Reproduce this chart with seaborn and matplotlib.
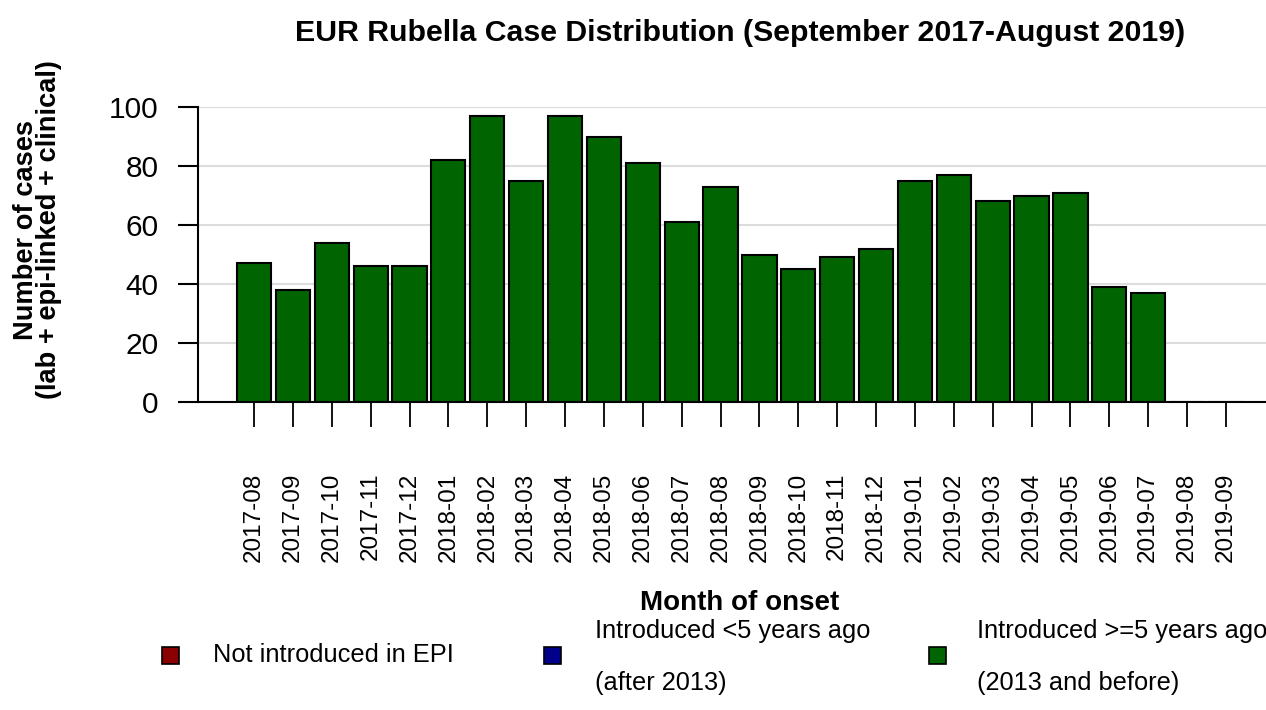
import matplotlib
matplotlib.use("Agg")
import matplotlib.pyplot as plt
import seaborn as sns
import pandas as pd
from matplotlib.patches import Rectangle

months = ["2017-08", "2017-09", "2017-10", "2017-11", "2017-12",
          "2018-01", "2018-02", "2018-03", "2018-04", "2018-05", "2018-06",
          "2018-07", "2018-08", "2018-09", "2018-10", "2018-11", "2018-12",
          "2019-01", "2019-02", "2019-03", "2019-04", "2019-05", "2019-06",
          "2019-07", "2019-08", "2019-09"]
cases = [47, 38, 54, 46, 46, 82, 97, 75, 97, 90, 81, 61, 73, 50, 45, 49, 52,
         75, 77, 68, 70, 71, 39, 37, 0, 0]
yticks = [0, 20, 40, 60, 80, 100]
legend_top = ["Not introduced in EPI", "Introduced <5 years ago", "Introduced >=5 years ago"]
legend_bottom = ["", "(after 2013)", "(2013 and before)"]
legend_colors = ["#8B0000", "#00008B", "#006400"]

sns.set_theme(style="white")
plt.rcParams['font.family'] = ['Liberation Sans', 'DejaVu Sans']
plt.rcParams['text.color'] = 'black'
plt.rcParams['xtick.color'] = 'black'
plt.rcParams['ytick.color'] = 'black'
plt.rcParams['axes.labelcolor'] = 'black'

df = pd.DataFrame({"month": months, "cases": cases})

fig = plt.figure(figsize=(12.66, 7.1), dpi=100)
ax = fig.add_axes([198/1266, 1-402/710, 1-198/1266, (402-107)/710])

sns.barplot(data=df, x="month", y="cases", order=months, color="#006400",
            saturation=1, width=0.88, edgecolor="black", linewidth=1.5, ax=ax)

ax.set_xlim(-1.44, 26.03)
ax.set_ylim(0, 100)
ax.set_yticks(yticks)
ax.set_yticklabels([str(v) for v in yticks], fontsize=21.5)
ax.yaxis.grid(True, color="#dcdcdc", linewidth=1.5)
ax.set_axisbelow(True)
for s in ["top", "right"]:
    ax.spines[s].set_visible(False)
for s in ["left", "bottom"]:
    ax.spines[s].set_color("black")
    ax.spines[s].set_linewidth(1.5)

ax.tick_params(axis="x", bottom=True, length=18, width=1.3, color="black",
               pad=33, labelsize=17.5, labelrotation=90)
ax.tick_params(axis="y", left=True, length=14.5, width=1.5, color="black",
               pad=14)
for lbl in ax.get_xticklabels():
    lbl.set_va("top")
    lbl.set_ha("center")

ax.set_xlabel("")
ax.set_ylabel("")
fig.text(740/1266, 1-610/710, "Month of onset", fontsize=20, fontweight="bold",
         ha="center", va="baseline")
fig.text(38/1266, 1-230/710, "Number of cases\n(lab + epi-linked + clinical)",
         fontsize=19.6, fontweight="bold", rotation=90, ha="center", va="center",
         multialignment="center", linespacing=0.85)
fig.text(740/1266, 1-41/710,
         "EUR Rubella Case Distribution (September 2017-August 2019)",
         fontsize=21.8, fontweight="bold", ha="center", va="baseline")

# legend
sq = 17
layout = [(170, 213, 595), (552, 595, 595), (937, 977, 977)]
for (sx, tx1, tx2), top, bot, col in zip(layout, legend_top, legend_bottom, legend_colors):
    fig.patches.append(Rectangle(((sx - sq/2)/1266, 1-(655+sq/2)/710), sq/1266, sq/710,
                                 transform=fig.transFigure, facecolor=col,
                                 edgecolor="black", linewidth=1.2))
    if bot:
        fig.text(tx1/1266, 1-631/710, top, fontsize=18.3, ha="left", va="center")
        fig.text(tx2/1266, 1-683/710, bot, fontsize=18.3, ha="left", va="center")
    else:
        fig.text(tx1/1266, 1-655/710, top, fontsize=18.3, ha="left", va="center")

fig.savefig("out.png", dpi=100)
